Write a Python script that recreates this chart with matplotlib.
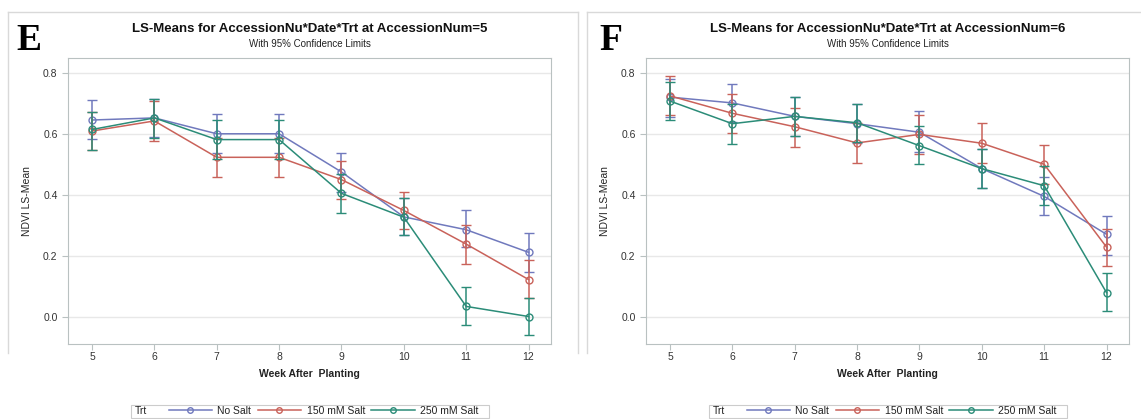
import matplotlib
matplotlib.use('Agg')
import matplotlib.pyplot as plt
from matplotlib.lines import Line2D
from matplotlib.patches import Rectangle
import numpy as np

plt.rcParams['font.family'] = ['Liberation Sans', 'DejaVu Sans']

weeks = [5, 6, 7, 8, 9, 10, 11, 12]
treatments = ['No Salt', '150 mM Salt', '250 mM Salt']
colors = ['#7079bd', '#c9625a', '#2b8c78']

# accession 5 : means, lower and upper 95% limits
acc5_mean = [
    [0.645, 0.652, 0.600, 0.600, 0.475, 0.328, 0.286, 0.212],
    [0.609, 0.642, 0.523, 0.523, 0.450, 0.349, 0.239, 0.123],
    [0.614, 0.652, 0.581, 0.581, 0.405, 0.327, 0.035, 0.002],
]
acc5_lo = [
    [0.583, 0.588, 0.536, 0.536, 0.410, 0.268, 0.228, 0.148],
    [0.547, 0.577, 0.459, 0.459, 0.388, 0.288, 0.175, 0.061],
    [0.547, 0.585, 0.519, 0.519, 0.341, 0.268, -0.025, -0.060],
]
acc5_hi = [
    [0.710, 0.713, 0.665, 0.665, 0.538, 0.391, 0.349, 0.276],
    [0.671, 0.707, 0.587, 0.587, 0.510, 0.411, 0.302, 0.187],
    [0.671, 0.713, 0.645, 0.645, 0.470, 0.391, 0.099, 0.063],
]

# accession 6
acc6_mean = [
    [0.720, 0.701, 0.657, 0.633, 0.605, 0.486, 0.395, 0.271],
    [0.724, 0.667, 0.623, 0.570, 0.598, 0.569, 0.500, 0.229],
    [0.707, 0.633, 0.657, 0.636, 0.561, 0.486, 0.430, 0.080],
]
acc6_lo = [
    [0.656, 0.637, 0.594, 0.570, 0.540, 0.423, 0.334, 0.203],
    [0.661, 0.603, 0.558, 0.505, 0.533, 0.505, 0.435, 0.168],
    [0.645, 0.568, 0.594, 0.572, 0.500, 0.423, 0.367, 0.020],
]
acc6_hi = [
    [0.780, 0.763, 0.722, 0.699, 0.674, 0.550, 0.458, 0.331],
    [0.790, 0.730, 0.684, 0.635, 0.660, 0.634, 0.563, 0.288],
    [0.770, 0.698, 0.722, 0.699, 0.626, 0.550, 0.493, 0.145],
]

W, H = 1141, 419
fig = plt.figure(figsize=(W / 100, H / 100), dpi=100)


def px(x, y):
    return x / W, 1 - y / H


def draw_panel(left, mean, lo, hi, acc, letter, letter_x):
    ax = fig.add_axes([left / W, 1 - 344 / H, 483 / W, 286 / H])
    for i, t in enumerate(treatments):
        m = np.array(mean[i])
        err = [m - np.array(lo[i]), np.array(hi[i]) - m]
        ax.errorbar(weeks, m, yerr=err, color=colors[i], lw=1.1,
                    elinewidth=1.1, capsize=3.6, capthick=1.1,
                    marker='o', ms=5, mfc='none', mew=1.0, zorder=3 + i)
    ax.set_xlim(4.615, 12.36)
    ax.set_ylim(-0.088, 0.848)
    ax.set_xticks(weeks)
    ax.set_yticks([0.0, 0.2, 0.4, 0.6, 0.8])
    ax.set_yticklabels(['0.0', '0.2', '0.4', '0.6', '0.8'])
    ax.yaxis.grid(True, color='#e8e8e8', lw=1)
    ax.set_axisbelow(True)
    for s in ax.spines.values():
        s.set_color('#b9c1c1')
    ax.tick_params(colors='#b9c1c1', labelcolor='#333333', labelsize=7.5,
                   length=4, width=0.8)
    ax.tick_params(axis='x', pad=2)
    ax.set_xlabel('Week After  Planting', fontsize=7.5, fontweight='bold',
                  color='#222222', labelpad=5)
    ax.set_ylabel('NDVI LS-Mean', fontsize=7.5, color='#222222', labelpad=8)
    cx = left + 483 / 2
    fig.text(cx / W, 1 - 29 / H,
             'LS-Means for AccessionNu*Date*Trt at AccessionNum=%d' % acc,
             ha='center', va='center', fontsize=9.5, fontweight='bold',
             color='#111111')
    fig.text(cx / W, 1 - 44 / H, 'With 95% Confidence Limits',
             ha='center', va='center', fontsize=7, color='#222222')
    fig.text(letter_x / W, 1 - 41 / H, letter, ha='left', va='center',
             fontsize=27, fontweight='bold', family='Liberation Serif')

    # legend row with Trt label
    lx0, lx1 = cx - 179, cx + 179
    fig.patches.append(Rectangle(px(lx0, 418), (lx1 - lx0) / W, 13 / H,
                                 transform=fig.transFigure, fill=False,
                                 ec='#cccccc', lw=0.8))
    fig.text((lx0 + 4) / W, 1 - 411 / H, 'Trt', ha='left', va='center',
             fontsize=7.5, color='#222222')
    handles = [Line2D([], [], color=c, lw=1.1, marker='o', ms=4,
                      mfc='none', mew=1.0) for c in colors]
    fig.legend(handles, treatments, ncol=3, loc='center',
               bbox_to_anchor=((cx + 14) / W, 1 - 411 / H), frameon=False,
               fontsize=7.5, handlelength=4.2, handletextpad=0.5,
               columnspacing=0.6, borderpad=0, labelcolor='#222222')


draw_panel(68, acc5_mean, acc5_lo, acc5_hi, 5, 'E', 16)
draw_panel(646, acc6_mean, acc6_lo, acc6_hi, 6, 'F', 599)

# light panel borders
border = '#d9d9d9'
for xs, ys in [([8, 8], [12, 353]), ([8, 578], [12, 12]), ([578, 578], [12, 353]),
               ([587, 587], [12, 353]), ([587, 1141], [12, 12])]:
    fig.add_artist(Line2D([x / W for x in xs], [1 - y / H for y in ys],
                          transform=fig.transFigure, color=border, lw=1))

fig.savefig('out.png', dpi=100)
